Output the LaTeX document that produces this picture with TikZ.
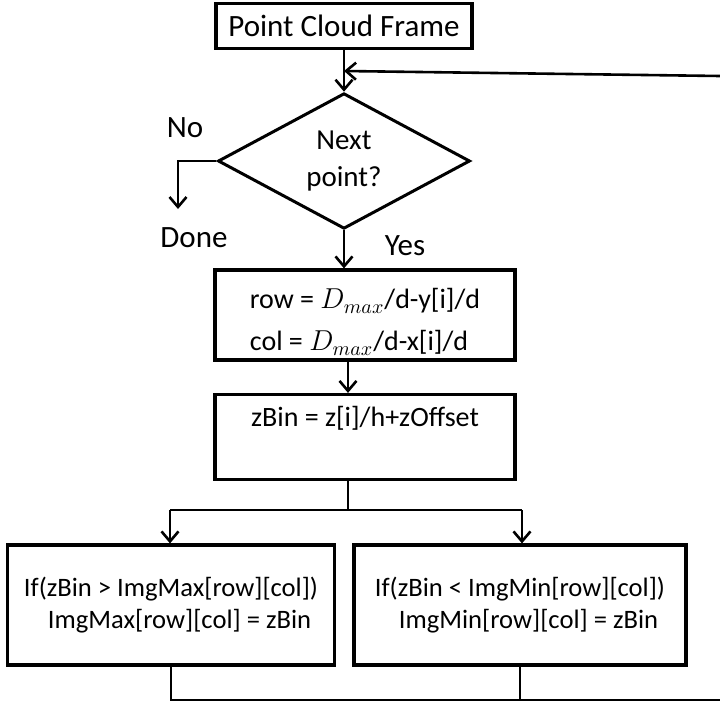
\documentclass[tikz,border=0pt]{standalone}
\usepackage{fontspec}
\setmainfont{Carlito}
\usepackage{tikz}
\usetikzlibrary{positioning}
\usetikzlibrary{shapes.geometric}
\usetikzlibrary{arrows.meta}

\tikzset{
  box/.style={draw, line width=1.6pt, rectangle, inner sep=2pt, font=\fontsize{14pt}{17pt}\selectfont},
  decision/.style={draw, line width=1.5pt, diamond, inner sep=0pt, minimum width=126pt, minimum height=58pt, align=center, font=\fontsize{14.5pt}{18.5pt}\selectfont},
  flow/.style={line width=1.3pt, -{Straight Barb[length=5pt,width=8.5pt,line width=1.3pt]}},
  link/.style={line width=1.3pt},
  tag/.style={font=\fontsize{15.5pt}{18pt}\selectfont}
}

\begin{document}
\begin{tikzpicture}[x=0.5pt,y=-0.5pt]
        \useasboundingbox (0,0) rectangle (720,702);

        \node [box, minimum width=128pt, minimum height=22.5pt, font=\fontsize{15.5pt}{18pt}\selectfont] (frame) at (344,26) {Point Cloud Frame};
        \node [decision] (next) at (344,161) {Next\\point?};
        \node [tag] (no) at (185,128) {No};
        \node [tag] (done) at (194,238) {Done};
        \node [tag] (yes) at (405,246) {Yes};

        \node [box, minimum width=150pt, minimum height=45pt, align=left] (index) at (365,315)
          {\rule{0pt}{17pt}row = $D_{max}$/d-y[i]/d\\[4pt]col = $D_{max}$/d-x[i]/d};
        \node [box, minimum width=150pt, minimum height=42.5pt, align=center] (zbin) at (365,437)
          {zBin = z[i]/h+zOffset\rule[-21pt]{0pt}{21pt}};
        \node [box, minimum width=163.5pt, minimum height=60pt, align=left, font=\fontsize{13.3pt}{16pt}\selectfont] (maxbox) at (171,605)
          {If(zBin > ImgMax[row][col])\\\hspace*{12pt}ImgMax[row][col] = zBin};
        \node [box, minimum width=166pt, minimum height=60pt, align=left, font=\fontsize{13.3pt}{16pt}\selectfont] (minbox) at (520,605)
          {If(zBin < ImgMin[row][col])\\\hspace*{12pt}ImgMin[row][col] = zBin};

        \coordinate (merge) at (344,71);
        \coordinate (loopin) at (720,76);
        \coordinate (nodrop) at (178,209);
        \coordinate (split) at (348,510);
        \coordinate (splitL) at (170,510);
        \coordinate (splitR) at (522,510);
        \coordinate (loopout) at (720,700);

        % main line down
        \draw [flow] (frame) -- (next);
        \draw [flow] (loopin) -- (merge);
        \draw [flow] (next.west) -| (nodrop);
        \draw [flow] (next.south) -- (next.south |- index.north);
        \draw [flow] (index.south -| split) -- (zbin.north -| split);

        % split into max / min
        \draw [link] (zbin.south -| split) -- (split);
        \draw [link] (splitL) -- (splitR);
        \draw [flow] (splitL) -- (splitL |- maxbox.north);
        \draw [flow] (splitR) -- (splitR |- minbox.north);

        % back to the top
        \draw [link] (maxbox.south) |- (loopout);
        \draw [link] (minbox.south) -- (minbox.south |- loopout);
      \end{tikzpicture}
\end{document}
